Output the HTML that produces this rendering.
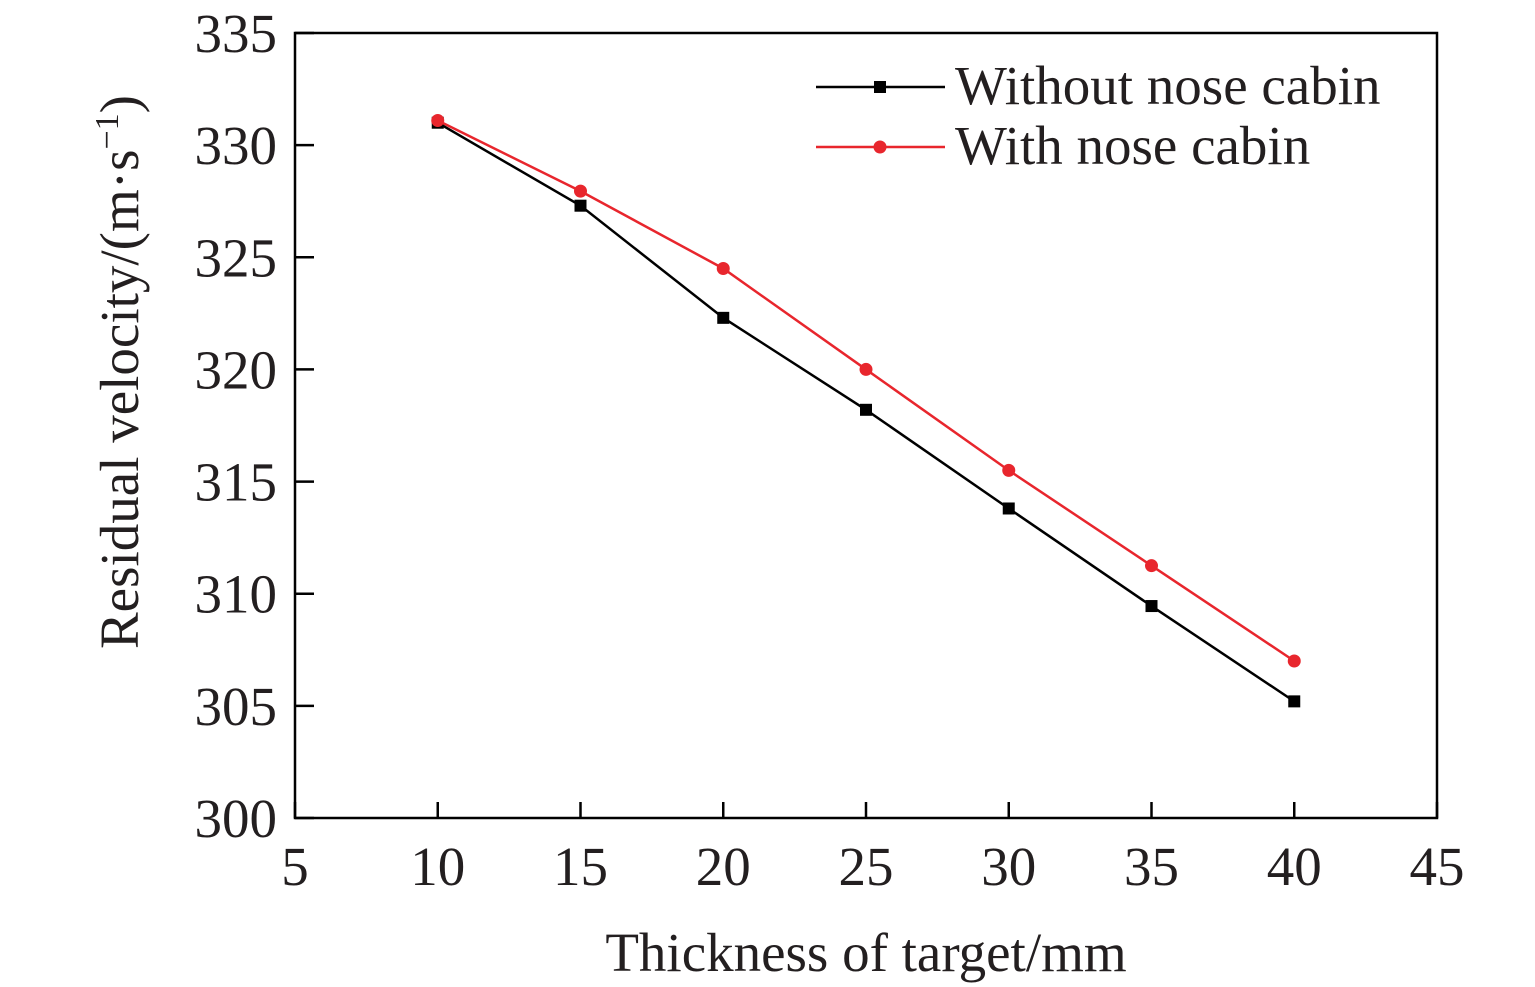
<!DOCTYPE html>
<html><head><meta charset="utf-8"><style>
html,body{margin:0;padding:0;background:#fff;}
svg{display:block;font-family:"Liberation Serif",serif;}
</style></head><body>
<svg id="chart" width="1535" height="987" viewBox="0 0 1535 987" xmlns="http://www.w3.org/2000/svg">
<g id="axes"></g>
<g id="series"></g>
<g>
 <line x1="816" y1="87" x2="945" y2="87" stroke="#000" stroke-width="2.5"/>
 <rect x="874" y="81" width="12" height="12" fill="#000"/>
 <text x="955" y="104" font-size="55" fill="#231f20">Without nose cabin</text>
 <line x1="816" y1="147" x2="945" y2="147" stroke="#e8262d" stroke-width="2.5"/>
 <circle cx="880" cy="147" r="6.5" fill="#e8262d"/>
 <text x="955" y="164" font-size="55" fill="#231f20">With nose cabin</text>
</g>
<text x="866" y="971" font-size="55" text-anchor="middle" fill="#231f20">Thickness of target/mm</text>
<text transform="translate(138,372) rotate(-90)" font-size="55" text-anchor="middle" fill="#231f20">Residual velocity/(m·s<tspan dy="-20" font-size="34">−1</tspan><tspan dy="20">)</tspan></text>
</svg>
<script>
const categories=[10,15,20,25,30,35,40];
const withoutNose=[331.0,327.3,322.3,318.2,313.8,309.45,305.2];
const withNose=[331.1,327.95,324.5,320.0,315.5,311.25,307.0];
const xTicks=[5,10,15,20,25,30,35,40,45];
const yTicks=[300,305,310,315,320,325,330,335];
const L=295,R=1437,T=33,B=818;
const xs=v=>L+(v-5)/(45-5)*(R-L);
const ys=v=>B-(v-300)/(335-300)*(B-T);
const NS="http://www.w3.org/2000/svg";
function mk(tag,attrs,parent){const e=document.createElementNS(NS,tag);for(const k in attrs)e.setAttribute(k,attrs[k]);parent.appendChild(e);return e;}
const ax=document.getElementById('axes');
const frame=mk('rect',{x:L,y:T,width:R-L,height:B-T,fill:'none',stroke:'#000','stroke-width':2.5},ax);


xTicks.forEach(v=>{
 const t=mk('line',{x1:xs(v),x2:xs(v),y1:B,y2:B-16,stroke:'#000','stroke-width':2.5},ax);
 
 
 const l=mk('text',{x:xs(v),y:B+67,'font-size':55,'text-anchor':'middle',fill:'#231f20'},ax);
 l.textContent=v;
 
 
});
yTicks.forEach(v=>{
 const t=mk('line',{x1:L,x2:L+19,y1:ys(v),y2:ys(v),stroke:'#000','stroke-width':2.5},ax);
 
 
 const l=mk('text',{x:L-18,y:ys(v)+19,'font-size':55,'text-anchor':'end',fill:'#231f20'},ax);
 l.textContent=v;
 
 
});
const sg=document.getElementById('series');
function drawSeries(vals,color,square,name){
 const pts=vals.map((v,i)=>xs(categories[i])+','+ys(v)).join(' ');
 const pl=mk('polyline',{points:pts,fill:'none',stroke:color,'stroke-width':2.5},sg);
 
 
 vals.forEach((v,i)=>{
  let m;
  if(square){m=mk('rect',{x:xs(categories[i])-6,y:ys(v)-6,width:12,height:12,fill:color},sg);}
  else{m=mk('circle',{cx:xs(categories[i]),cy:ys(v),r:6.5,fill:color},sg);}
  
  
 });
}
drawSeries(withoutNose,'#000',true,'without-nose-cabin');
drawSeries(withNose,'#e8262d',false,'with-nose-cabin');
</script>
</body></html>
